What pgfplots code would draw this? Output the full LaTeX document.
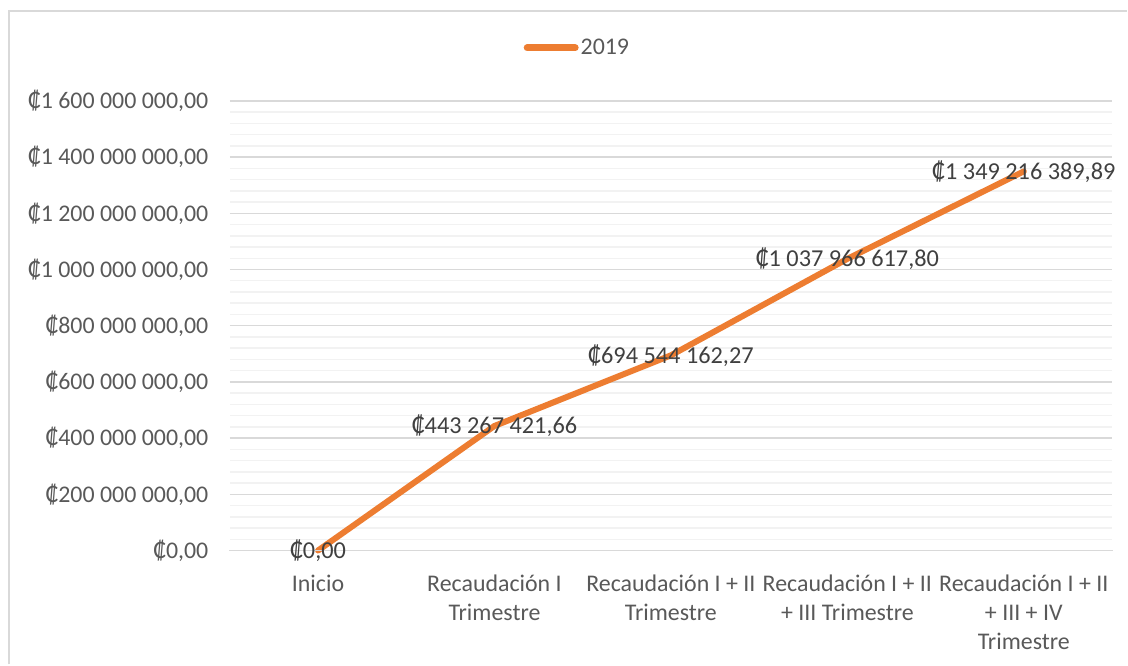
\documentclass[border=0pt]{standalone}
\usepackage{fontspec}
\setmainfont{Carlito}
\usepackage{pgfplots}
\pgfplotsset{compat=1.18}
\definecolor{ser}{HTML}{ED7D31}
\definecolor{txt}{HTML}{595959}
\definecolor{lab}{HTML}{404040}
\definecolor{majg}{HTML}{D9D9D9}
\definecolor{ming}{HTML}{F2F2F2}
\begin{document}
\begin{tikzpicture}
\begin{axis}[
  scale only axis,
  width=883bp, height=450bp,
  xmin=-0.5, xmax=4.5,
  ymin=0, ymax=1600000000,
  scaled y ticks=false,
  axis line style={draw=none},
  axis x line*=bottom,
  axis y line*=left,
  tick style={draw=none},
  font=\fontsize{24}{29.3}\selectfont,
  xtick={0,1,2,3,4},
  xticklabels={Inicio,Recaudación I\\Trimestre,Recaudación I + II\\Trimestre,Recaudación I + II\\+ III Trimestre,Recaudación I + II\\+ III + IV\\Trimestre},
  xticklabel style={align=center, text=txt, anchor=north, yshift=-21bp, font=\fontsize{24}{29.3}\selectfont},
  ytick={0,200000000,400000000,600000000,800000000,1000000000,1200000000,1400000000,1600000000},
  yticklabels={{₡0,00},{₡200 000 000,00},{₡400 000 000,00},{₡600 000 000,00},{₡800 000 000,00},{₡1 000 000 000,00},{₡1 200 000 000,00},{₡1 400 000 000,00},{₡1 600 000 000,00}},
  yticklabel style={text=txt, anchor=east, xshift=-18bp, font=\fontsize{24}{29.3}\selectfont},
  minor y tick num=4,
  ymajorgrids, yminorgrids,
  major grid style={majg, line width=1.5bp},
  minor grid style={ming, line width=1.5bp},
  clip=false,
  legend style={at={(0.394,1.118)}, anchor=center, draw=none, fill=none, text=txt, font=\fontsize{24}{29.3}\selectfont, inner sep=0pt},
  legend image code/.code={\draw[#1, line width=7bp, line cap=round] (0bp,0bp) -- (48bp,0bp);},
]
\addplot[draw=ser, line width=6bp, line cap=round, line join=round,
  point meta=explicit symbolic,
  nodes near coords,
  every node near coord/.append style={anchor=center, text=lab, font=\fontsize{24.4}{29.3}\selectfont},
] coordinates {
  (0,0) [₡0,00]
  (1,443267421.66) [₡443 267 421,66]
  (2,694544162.27) [₡694 544 162,27]
  (3,1037966617.80) [₡1 037 966 617,80]
  (4,1349216389.89) [₡1 349 216 389,89]
};
\addlegendentry{2019}
\draw[majg, line width=1.5bp] ([xshift=-0.75bp]rel axis cs:0,0) -- ([xshift=0.75bp]rel axis cs:1,0);
\end{axis}
\draw[majg, line width=2bp] ([xshift=-221bp, yshift=-114bp]current axis.south west) -- ([xshift=-221bp, yshift=90bp]current axis.north west) -- ([xshift=15bp, yshift=90bp]current axis.north east);
\path[use as bounding box] ([xshift=-230bp, yshift=-114bp]current axis.south west) rectangle ([xshift=15bp, yshift=101bp]current axis.north east);
\end{tikzpicture}
\end{document}
